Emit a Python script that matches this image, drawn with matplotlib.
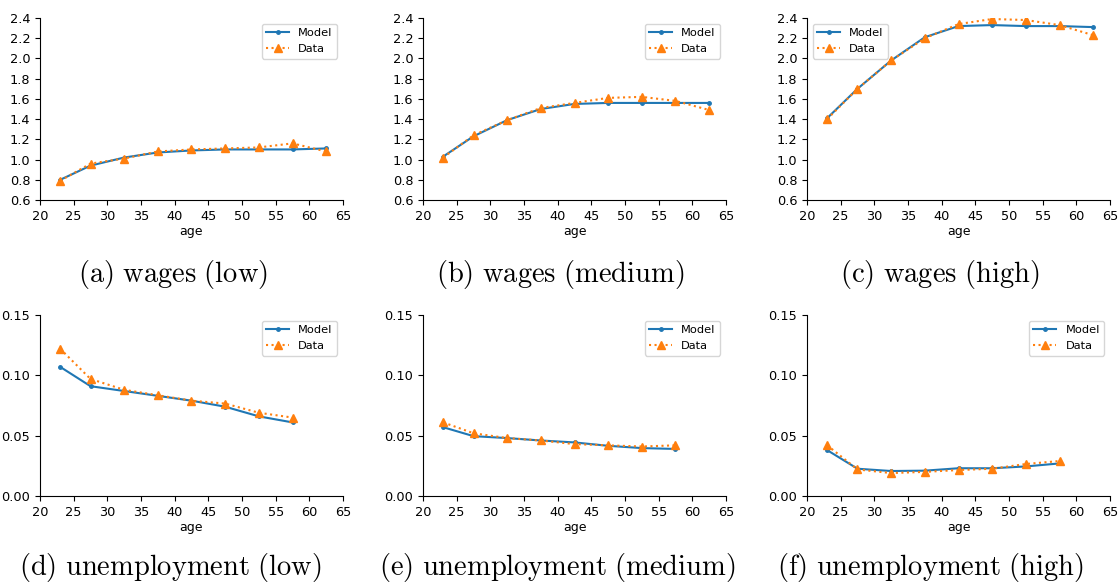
import matplotlib
matplotlib.use("Agg")
import matplotlib.pyplot as plt

ages = [23, 27.5, 32.5, 37.5, 42.5, 47.5, 52.5, 57.5, 62.5]
ages_u = ages[:8]

wage_model_low = [0.80, 0.94, 1.02, 1.07, 1.09, 1.10, 1.10, 1.10, 1.11]
wage_data_low = [0.79, 0.96, 1.01, 1.08, 1.10, 1.11, 1.12, 1.16, 1.08]
wage_model_med = [1.03, 1.23, 1.39, 1.50, 1.55, 1.56, 1.56, 1.56, 1.56]
wage_data_med = [1.02, 1.24, 1.39, 1.51, 1.56, 1.61, 1.62, 1.58, 1.49]
wage_model_high = [1.41, 1.70, 1.98, 2.21, 2.32, 2.33, 2.32, 2.32, 2.31]
wage_data_high = [1.40, 1.70, 1.98, 2.20, 2.34, 2.39, 2.38, 2.33, 2.23]

unemp_model_low = [0.107, 0.091, 0.087, 0.083, 0.079, 0.074, 0.066, 0.061]
unemp_data_low = [0.122, 0.097, 0.088, 0.0835, 0.079, 0.0766, 0.069, 0.065]
unemp_model_med = [0.057, 0.0496, 0.048, 0.046, 0.0444, 0.0416, 0.0397, 0.039]
unemp_data_med = [0.061, 0.052, 0.048, 0.046, 0.043, 0.042, 0.041, 0.042]
unemp_model_high = [0.038, 0.0226, 0.0207, 0.021, 0.023, 0.023, 0.0245, 0.027]
unemp_data_high = [0.042, 0.022, 0.019, 0.020, 0.0215, 0.0226, 0.0265, 0.029]

captions = ["(a) wages (low)", "(b) wages (medium)", "(c) wages (high)",
            "(d) unemployment (low)", "(e) unemployment (medium)", "(f) unemployment (high)"]

plt.rcParams["mathtext.fontset"] = "cm"
fig = plt.figure(figsize=(11.2, 5.86), dpi=100)

lefts = [40, 423, 807]
cap_x = [173, 560, 940, 170, 557, 930]
panels = [
    (ages, wage_model_low, wage_data_low, "upper right"),
    (ages, wage_model_med, wage_data_med, "upper right"),
    (ages, wage_model_high, wage_data_high, "upper left"),
    (ages_u, unemp_model_low, unemp_data_low, "upper right"),
    (ages_u, unemp_model_med, unemp_data_med, "upper right"),
    (ages_u, unemp_model_high, unemp_data_high, "upper right"),
]

for i, (x, model, data, loc) in enumerate(panels):
    row = i // 3
    col = i % 3
    if row == 0:
        ax = fig.add_axes([lefts[col] / 1120, 1 - 200 / 586, 303 / 1120, 182 / 586])
    else:
        ax = fig.add_axes([lefts[col] / 1120, 1 - 496 / 586, 303 / 1120, 181 / 586])
    ax.plot(x, model, color="C0", marker=".", markersize=5, label="Model")
    ax.plot(x, data, color="C1", linestyle=":", marker="^", markersize=6, label="Data")
    ax.set_xlim(20, 65)
    ax.set_xticks(range(20, 66, 5))
    if row == 0:
        ax.set_ylim(0.6, 2.4)
        ax.set_yticks([0.6, 0.8, 1.0, 1.2, 1.4, 1.6, 1.8, 2.0, 2.2, 2.4])
    else:
        ax.set_ylim(0, 0.15)
        ax.set_yticks([0.0, 0.05, 0.10, 0.15])
        ax.set_yticklabels(["0.00", "0.05", "0.10", "0.15"])
    ax.tick_params(labelsize=9.3)
    ax.set_xlabel("age", fontsize=9, labelpad=2)
    ax.spines["top"].set_visible(False)
    ax.spines["right"].set_visible(False)
    ax.legend(loc=loc, fontsize=8.2)
    cy = 274 if row == 0 else 568
    label = captions[i].replace(" ", r"\ ")
    fig.text(cap_x[i] / 1120, 1 - cy / 586, r"$\mathrm{" + label + "}$",
             ha="center", va="center", fontsize=20.5)

fig.savefig("out.png", dpi=100)
